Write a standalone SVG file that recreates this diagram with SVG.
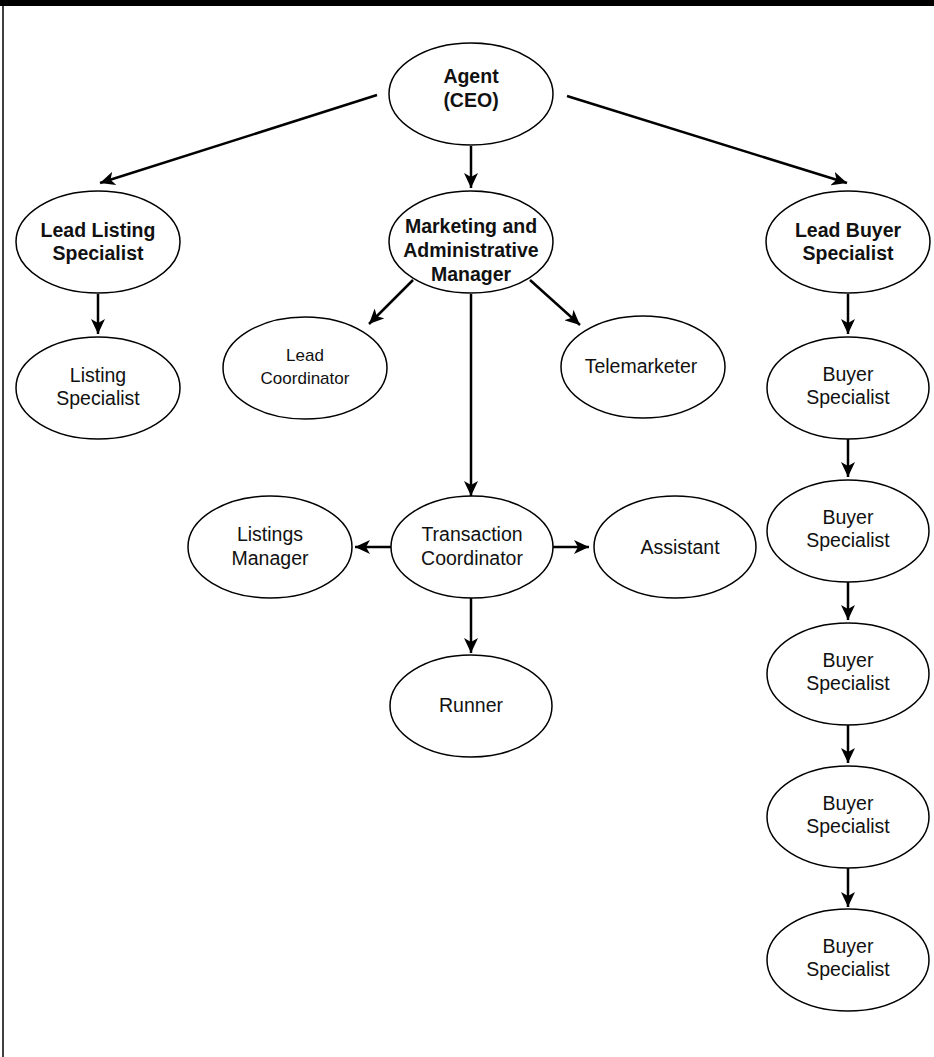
<svg xmlns="http://www.w3.org/2000/svg" width="934" height="1057" viewBox="0 0 934 1057">
<style>
.n{fill:#fff;stroke:#000;stroke-width:1.5}
.t{font-family:"Liberation Sans",Arial,sans-serif;font-size:19.5px;fill:#111;text-anchor:middle}
.b{font-weight:bold;font-size:19.5px}
.s{font-size:17px}
.c line{stroke:#000;stroke-width:2.5;marker-end:url(#ah)}
</style>
<defs>
<marker id="ah" markerUnits="userSpaceOnUse" markerWidth="16" markerHeight="14" refX="15" refY="7" orient="auto" viewBox="0 0 16 14">
<path d="M0,0 L15,7 L0,14 L4,7 z" fill="#000"/>
</marker>
</defs>
<rect x="0" y="0" width="934" height="6" fill="#000"/>
<line x1="3" y1="6" x2="3" y2="1057" stroke="#000" stroke-width="1.5"/>
<g class="c">
<line x1="377" y1="95" x2="100" y2="183"/>
<line x1="471" y1="146" x2="471" y2="188"/>
<line x1="567" y1="96" x2="847" y2="183"/>
<line x1="98" y1="294" x2="98" y2="334"/>
<line x1="413" y1="280" x2="369" y2="324"/>
<line x1="530" y1="280" x2="580" y2="325"/>
<line x1="471" y1="294" x2="471" y2="496"/>
<line x1="391" y1="547" x2="355" y2="547"/>
<line x1="553" y1="547" x2="589" y2="547"/>
<line x1="471" y1="598" x2="471" y2="653"/>
<line x1="848" y1="294" x2="848" y2="334"/>
<line x1="848" y1="439" x2="848" y2="477"/>
<line x1="848" y1="582" x2="848" y2="620"/>
<line x1="848" y1="725" x2="848" y2="763"/>
<line x1="848" y1="868" x2="848" y2="907"/>
</g>
<g id="agent"><ellipse class="n" cx="471" cy="94" rx="82" ry="51"/><text class="t b" x="471" y="83">Agent</text><text class="t b" x="471" y="107">(CEO)</text></g>
<g id="lead-listing"><ellipse class="n" cx="98" cy="242" rx="82" ry="51"/><text class="t b" x="98" y="237">Lead Listing</text><text class="t b" x="98" y="260">Specialist</text></g>
<g id="listing"><ellipse class="n" cx="98" cy="388" rx="82" ry="51"/><text class="t" x="98" y="382">Listing</text><text class="t" x="98" y="405">Specialist</text></g>
<g id="marketing"><ellipse class="n" cx="471" cy="242" rx="82" ry="51"/><text class="t b" x="471" y="233">Marketing and</text><text class="t b" x="471" y="257">Administrative</text><text class="t b" x="471" y="281">Manager</text></g>
<g id="lead-coordinator"><ellipse class="n" cx="305" cy="368" rx="82" ry="51"/><text class="t s" x="305" y="361">Lead</text><text class="t s" x="305" y="384">Coordinator</text></g>
<g id="telemarketer"><ellipse class="n" cx="643" cy="367" rx="82" ry="51"/><text class="t" x="641" y="373">Telemarketer</text></g>
<g id="transaction"><ellipse class="n" cx="472" cy="547" rx="81" ry="51"/><text class="t" x="472" y="541">Transaction</text><text class="t" x="472" y="565">Coordinator</text></g>
<g id="listings-manager"><ellipse class="n" cx="270" cy="547" rx="82" ry="51"/><text class="t" x="270" y="541">Listings</text><text class="t" x="270" y="565">Manager</text></g>
<g id="assistant"><ellipse class="n" cx="675" cy="547" rx="81" ry="51"/><text class="t" x="680" y="554">Assistant</text></g>
<g id="runner"><ellipse class="n" cx="471" cy="706" rx="81" ry="51"/><text class="t" x="471" y="712">Runner</text></g>
<g id="lead-buyer"><ellipse class="n" cx="848" cy="242" rx="82" ry="51"/><text class="t b" x="848" y="237">Lead Buyer</text><text class="t b" x="848" y="260">Specialist</text></g>
<g id="buyer1"><ellipse class="n" cx="848" cy="388" rx="81" ry="51"/><text class="t" x="848" y="381">Buyer</text><text class="t" x="848" y="404">Specialist</text></g>
<g id="buyer2"><ellipse class="n" cx="848" cy="531" rx="81" ry="51"/><text class="t" x="848" y="524">Buyer</text><text class="t" x="848" y="547">Specialist</text></g>
<g id="buyer3"><ellipse class="n" cx="848" cy="674" rx="81" ry="51"/><text class="t" x="848" y="667">Buyer</text><text class="t" x="848" y="690">Specialist</text></g>
<g id="buyer4"><ellipse class="n" cx="848" cy="817" rx="81" ry="51"/><text class="t" x="848" y="810">Buyer</text><text class="t" x="848" y="833">Specialist</text></g>
<g id="buyer5"><ellipse class="n" cx="848" cy="960" rx="81" ry="51"/><text class="t" x="848" y="953">Buyer</text><text class="t" x="848" y="976">Specialist</text></g>
</svg>
